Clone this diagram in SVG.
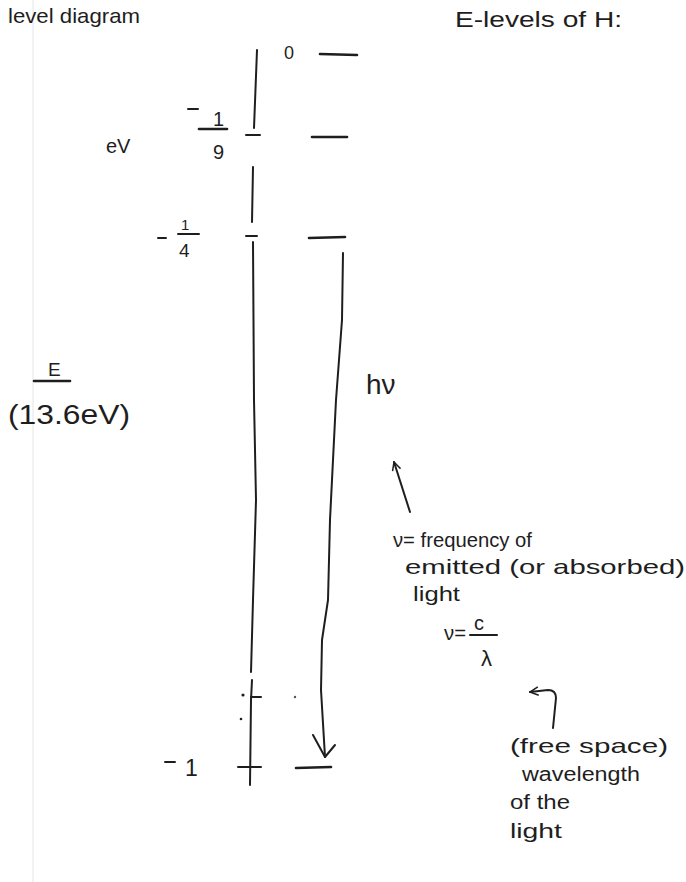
<svg xmlns="http://www.w3.org/2000/svg" width="686" height="882" viewBox="0 0 686 882">
<style>
.t{font-family:"Liberation Sans","DejaVu Sans",sans-serif;fill:#1e1e1e;}
.s{fill:none;stroke:#1e1e1e;stroke-width:2;stroke-linecap:round;stroke-linejoin:round;}
.lv{fill:none;stroke:#1e1e1e;stroke-width:2.6;stroke-linecap:round;}
</style>
<defs>
<marker id="ah" viewBox="0 0 12 12" refX="11" refY="6" markerWidth="10" markerHeight="10" markerUnits="userSpaceOnUse" orient="auto">
<path d="M1,1 L11,6 L1,11" fill="none" stroke="#1e1e1e" stroke-width="1.8"/>
</marker>
</defs>
<rect width="686" height="882" fill="#ffffff"/>
<line x1="33" y1="0" x2="33" y2="882" stroke="#eeeeee" stroke-width="1.5"/>

<g id="titles">
<text class="t" x="8" y="23" font-size="21" textLength="132" lengthAdjust="spacingAndGlyphs">level diagram</text>
<text class="t" x="455" y="27" font-size="22" textLength="167" lengthAdjust="spacingAndGlyphs">E-levels of H:</text>
</g>

<g id="axis">
<path class="s" d="M257,50 L254,128 M253,167 L252,222 M253,242 L254,400 L256,500 L253,600 L251,672 M252,680 L251,700 L250,785"/>
<line class="s" x1="246" y1="135" x2="260" y2="135"/>
<line class="s" x1="246" y1="236" x2="257" y2="236"/>
<line class="s" x1="251" y1="697" x2="261" y2="697"/>
<line class="s" x1="238" y1="767" x2="261" y2="767"/>
<circle cx="243" cy="695" r="1.6" fill="#1e1e1e"/>
<circle cx="241" cy="719" r="1.3" fill="#1e1e1e"/>
<circle cx="295" cy="697" r="1.2" fill="#555"/>
</g>

<g id="axis-labels">
<text class="t" x="106" y="153" font-size="20">eV</text>
<text class="t" x="284" y="59" font-size="18">0</text>
<line class="s" x1="188" y1="109" x2="198" y2="109"/>
<text class="t" x="213" y="126" font-size="20">1</text>
<line class="lv" x1="199" y1="129" x2="227" y2="129"/>
<text class="t" x="213" y="159" font-size="20">9</text>
<line class="s" x1="158" y1="238" x2="166" y2="238"/>
<text class="t" x="181" y="230" font-size="15">1</text>
<line class="s" x1="178" y1="234" x2="199" y2="234"/>
<text class="t" x="179" y="257" font-size="19">4</text>
<line class="s" x1="165" y1="762" x2="175" y2="762"/>
<text class="t" x="185" y="776" font-size="23">1</text>
</g>

<g id="levels">
<line class="lv" x1="320" y1="54" x2="357" y2="55" stroke-width="3.4"/>
<line class="lv" x1="312" y1="137" x2="347" y2="137"/>
<line class="lv" x1="309" y1="238" x2="345" y2="237"/>
<line class="lv" x1="296" y1="768" x2="331" y2="767"/>
</g>

<g id="energy-label">
<text class="t" x="48" y="376" font-size="19">E</text>
<line class="lv" x1="34" y1="381" x2="70" y2="381"/>
<text class="t" x="8" y="424" font-size="27" textLength="122" lengthAdjust="spacingAndGlyphs">(13.6eV)</text>
</g>

<g id="connectors">
<path class="s" d="M343,253 L342,320 L336,400 L330,520 L328,600 L322,640 L321,690 L325,757" stroke-width="2.2"/>
<path class="s" d="M313,735 L325,757 L335,745" stroke-width="2.4"/>
<path class="s" d="M410,512 L394,462" marker-end="url(#ah)"/>
<path class="s" d="M553,728 L556,698 Q556,690 548,690 L530,692" marker-end="url(#ah)"/>
</g>

<g id="hv">
<text class="t" x="366" y="394" font-size="28">hν</text>
</g>

<g id="notes">
<text class="t" x="393" y="547" font-size="20" textLength="139" lengthAdjust="spacingAndGlyphs">ν= frequency of</text>
<text class="t" x="405" y="574" font-size="21" textLength="280" lengthAdjust="spacingAndGlyphs">emitted (or absorbed)</text>
<text class="t" x="413" y="601" font-size="21" textLength="47" lengthAdjust="spacingAndGlyphs">light</text>
<text class="t" x="444" y="640" font-size="20" textLength="22" lengthAdjust="spacingAndGlyphs">ν=</text>
<text class="t" x="474" y="630" font-size="20">c</text>
<line class="s" x1="470" y1="635" x2="497" y2="635"/>
<text class="t" x="481" y="666" font-size="22">λ</text>
<text class="t" x="510" y="753" font-size="21" textLength="158" lengthAdjust="spacingAndGlyphs">(free space)</text>
<text class="t" x="522" y="781" font-size="20" textLength="118" lengthAdjust="spacingAndGlyphs">wavelength</text>
<text class="t" x="510" y="809" font-size="20" textLength="60" lengthAdjust="spacingAndGlyphs">of the</text>
<text class="t" x="510" y="838" font-size="21" textLength="52" lengthAdjust="spacingAndGlyphs">light</text>
</g>
</svg>
